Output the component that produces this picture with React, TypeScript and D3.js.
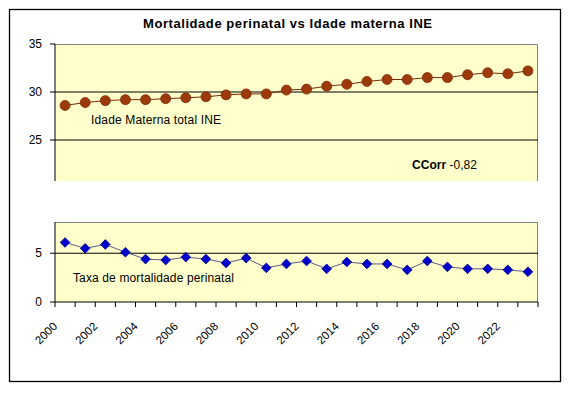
import * as d3 from "d3";
import React from "react";

// anos 2000..2023
const years = d3.range(2000, 2024).map(String);
const labelYears = years.filter((y, i) => i % 2 === 0);

// Idade materna média ao nascimento (INE)
const idadeMaterna = [
  28.6, 28.9, 29.1, 29.2, 29.2, 29.3, 29.4, 29.5, 29.7, 29.8, 29.8, 30.2,
  30.3, 30.6, 30.8, 31.1, 31.3, 31.3, 31.5, 31.5, 31.8, 32.0, 31.9, 32.2,
];

// Taxa de mortalidade perinatal
const mortalidade = [
  6.1, 5.5, 5.9, 5.1, 4.4, 4.3, 4.6, 4.4, 4.0, 4.5, 3.5, 3.9,
  4.2, 3.4, 4.1, 3.9, 3.9, 3.3, 4.2, 3.6, 3.4, 3.4, 3.3, 3.1,
];

const topTicks = [25, 30, 35];
const bottomTicks = [0, 5];

const W = 572;
const H = 398;
const font = "Arial, 'Liberation Sans', sans-serif";

export default function App() {
  const left = 55;
  const right = 538;
  const top1 = 44;
  const bot1 = 181;
  const top2 = 222;
  const bot2 = 302;

  const x = d3.scaleBand().domain(years).range([left, right]).padding(0);
  const yTop = d3.scaleLinear().domain([20, 35]).range([188, top1]);
  const yBot = d3.scaleLinear().domain([0, 8.2]).range([bot2, top2]);

  const cx = (d: string) => (x(d) ?? 0) + x.bandwidth() / 2;

  const lineTop = d3
    .line<number>()
    .x((_, i) => cx(years[i]))
    .y((d) => yTop(d));
  const lineBot = d3
    .line<number>()
    .x((_, i) => cx(years[i]))
    .y((d) => yBot(d));

  const diamond = d3.symbol().type(d3.symbolDiamond2).size(60)();
  const tickXs = years.map((d) => x(d) ?? 0).concat([right]);

  return (
    <svg
      width={W}
      height={H}
      style={{ position: "absolute", left: 0, top: 0, background: "#fff" }}
      fontFamily={font}
    >
      <rect x={9.5} y={9.5} width={551} height={372} fill="#fff" stroke="#000" strokeWidth={1.3} />
      <text x={143} y={28} fontSize={13} fontWeight="bold" textLength={289} lengthAdjust="spacing">
        Mortalidade perinatal vs Idade materna INE
      </text>

      {/* painel superior */}
      <rect x={left} y={top1} width={right - left} height={bot1 - top1} fill="#FFFFCC" />
      <path d={`M${left},${top1 + 0.5}H${right - 0.5}V${bot1}`} fill="none" stroke="#808080" />
      {topTicks
        .filter((t) => t < 35)
        .map((t) => (
          <line key={t} x1={left} x2={right} y1={yTop(t)} y2={yTop(t)} stroke="#000" />
        ))}
      <line x1={left} x2={left} y1={top1} y2={bot1} stroke="#000" />
      {topTicks.map((t) => (
        <g key={t}>
          <line x1={left - 5} x2={left} y1={yTop(t)} y2={yTop(t)} stroke="#000" />
          <text x={left - 13} y={yTop(t)} dy="0.35em" textAnchor="end" fontSize={12}>
            {t}
          </text>
        </g>
      ))}
      <path d={lineTop(idadeMaterna) ?? ""} fill="none" stroke="#7a2a05" strokeWidth={1} />
      {idadeMaterna.map((v, i) => (
        <circle key={i} cx={cx(years[i])} cy={yTop(v)} r={5} fill="#9c3a0c" stroke="#7f2c06" strokeWidth={0.8} />
      ))}
      <text x={91} y={124} fontSize={12} textLength={130} lengthAdjust="spacing">
        Idade Materna total INE
      </text>
      <text x={412} y={169} fontSize={12} textLength={65} lengthAdjust="spacing">
        <tspan fontWeight="bold">CCorr</tspan> -0,82
      </text>

      {/* painel inferior */}
      <rect x={left} y={top2} width={right - left} height={bot2 - top2} fill="#FFFFCC" />
      <path d={`M${left},${top2 + 0.5}H${right - 0.5}V${bot2}`} fill="none" stroke="#808080" />
      {bottomTicks
        .filter((t) => t > 0)
        .map((t) => (
          <line key={t} x1={left} x2={right} y1={yBot(t)} y2={yBot(t)} stroke="#000" />
        ))}
      <line x1={left} x2={left} y1={top2} y2={bot2} stroke="#000" />
      {bottomTicks.map((t) => (
        <g key={t}>
          <line x1={left - 5} x2={left} y1={yBot(t)} y2={yBot(t)} stroke="#000" />
          <text x={left - 13} y={yBot(t)} dy="0.35em" textAnchor="end" fontSize={12}>
            {t}
          </text>
        </g>
      ))}
      <line x1={left} x2={right} y1={bot2} y2={bot2} stroke="#000" />
      {tickXs.map((t, i) => (
        <line key={i} x1={t} x2={t} y1={bot2} y2={bot2 + 5} stroke="#000" />
      ))}
      {labelYears.map((y) => (
        <text
          key={y}
          transform={`translate(${cx(y) - 10},${bot2 + 22}) rotate(-45)`}
          textAnchor="end"
          dy="0.35em"
          fontSize={11.5}
        >
          {y}
        </text>
      ))}
      <path d={lineBot(mortalidade) ?? ""} fill="none" stroke="#5c5c8c" strokeWidth={1} />
      {mortalidade.map((v, i) => (
        <path
          key={i}
          d={diamond ?? ""}
          transform={`translate(${cx(years[i])},${yBot(v)})`}
          fill="#0000cc"
          stroke="#000080"
          strokeWidth={0.8}
        />
      ))}
      <text x={73} y={282} fontSize={12} textLength={161} lengthAdjust="spacing">
        Taxa de mortalidade perinatal
      </text>
    </svg>
  );
}
